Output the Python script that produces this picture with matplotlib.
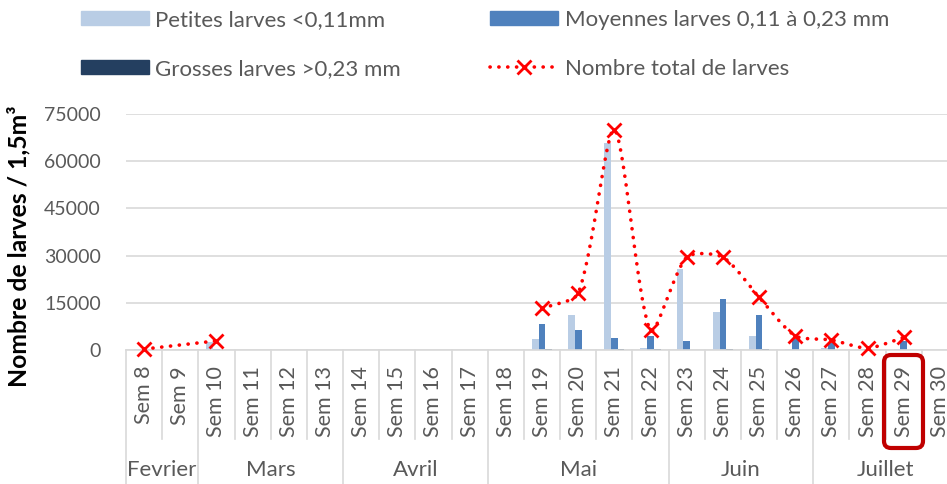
import numpy as np
import matplotlib
matplotlib.use("Agg")
import matplotlib.pyplot as plt
from matplotlib.patches import Patch, FancyBboxPatch
from matplotlib.lines import Line2D

plt.rcParams['font.family'] = ['Lato', 'DejaVu Sans']

nan = np.nan
weeks = ["Sem %d" % w for w in range(8, 31)]
months = ["Fevrier", "Mars", "Avril", "Mai", "Juin", "Juillet"]
month_sizes = [2, 4, 4, 5, 4, 4]

petites = [300, nan, 2500, nan, nan, nan, nan, nan, nan, nan, nan,
           3500, 11000, 65800, 600, 25600, 12000, 4600, 200, 600, 300, 300, nan]
moyennes = [100, nan, 300, nan, nan, nan, nan, nan, nan, nan, nan,
            8300, 6200, 3800, 4300, 3000, 16300, 11000, 3600, 2300, 200, 2800, nan]
grosses = [0, nan, 50, nan, nan, nan, nan, nan, nan, nan, nan,
           400, 150, 250, 400, 100, 300, 200, 150, 100, 50, 100, nan]
total = [300, nan, 2900, nan, nan, nan, nan, nan, nan, nan, nan,
         13200, 18000, 70000, 6200, 29500, 29500, 16800, 4500, 3200, 600, 4000, nan]

GREY = '#595959'
W, H = 947, 484
fig = plt.figure(figsize=(W / 100, H / 100), dpi=100)
ax = fig.add_axes([126 / W, (H - 350) / H, 832 / W, 236 / H])

n = len(weeks)
x = np.arange(n)
bw = 0.185
cols = ['#B9CDE5', '#4F81BD', '#243F60']
for k, (vals, c) in enumerate(zip([petites, moyennes, grosses], cols)):
    ax.bar(x + (k - 1) * bw, np.nan_to_num(vals), width=bw, color=c, zorder=2)

ax.set_xlim(-0.5, n - 0.5)
ax.set_ylim(0, 75000)

# smoothed total line (Excel-like smoothing in display space), broken at long gaps
tot = np.array(total, dtype=float)
valid = np.where(~np.isnan(tot))[0]
groups, cur = [], [valid[0]]
for i in valid[1:]:
    if i - cur[-1] <= 2:
        cur.append(i)
    else:
        groups.append(cur)
        cur = [i]
groups.append(cur)

def smooth_pix(P, tension=0.25, steps=40):
    if len(P) < 3:
        return P
    m = len(P)
    cin, cout = [None] * m, [None] * m
    for i in range(m):
        p0 = P[max(i - 1, 0)]
        p2 = P[min(i + 1, m - 1)]
        d1 = np.linalg.norm(P[i] - p0)
        d2 = np.linalg.norm(p2 - P[i])
        T = p2 - p0
        s = d1 + d2 if d1 + d2 > 0 else 1
        cout[i] = P[i] + T * (d2 / s) * tension
        cin[i] = P[i] - T * (d1 / s) * tension
    out = [P[:1]]
    t = np.linspace(0, 1, steps)[1:, None]
    for i in range(m - 1):
        p1, c1, c2, p2 = P[i], cout[i], cin[i + 1], P[i + 1]
        out.append((1 - t) ** 3 * p1 + 3 * (1 - t) ** 2 * t * c1
                   + 3 * (1 - t) * t ** 2 * c2 + t ** 3 * p2)
    return np.vstack(out)

tr = ax.transData
for g in groups:
    P = tr.transform(np.column_stack([x[g], tot[g]]))
    S = tr.inverted().transform(smooth_pix(P))
    ax.plot(S[:, 0], S[:, 1], color='#FF0000', lw=2.6, linestyle=(0, (0.05, 2.4)),
            dash_capstyle='round', zorder=3, clip_on=False)
ax.plot(x[valid], tot[valid], linestyle='none', marker='x', ms=10, mew=2,
        color='#FF0000', zorder=4, clip_on=False)

ax.set_yticks(np.arange(0, 75001, 15000))
ax.tick_params(axis='y', length=0, labelsize=14, labelcolor=GREY, pad=18)
ax.set_xticks([])
ax.grid(axis='y', color='#D9D9D9', lw=1.2, zorder=0)
ax.set_axisbelow(True)
for s in ['top', 'right', 'left']:
    ax.spines[s].set_visible(False)
ax.spines['bottom'].set_color('#D9D9D9')
ax.spines['bottom'].set_linewidth(1.2)

xt = ax.get_xaxis_transform()
wk_bottom = -(439 - 350) / 236
mo_bottom = -(484 - 350) / 236
month_bounds = set(np.cumsum([0] + month_sizes))
for b in range(n + 1):
    bottom = mo_bottom if b in month_bounds else wk_bottom
    ax.plot([b - 0.5, b - 0.5], [0, bottom], transform=xt, color='#D9D9D9',
            lw=1.2, clip_on=False)
for i, w in enumerate(weeks):
    ax.text(i, -(366 - 350) / 236, w, transform=xt, rotation=90, ha='center',
            va='top', fontsize=15.5, color=GREY)
start = 0
for m, sz in zip(months, month_sizes):
    ax.text(start + (sz - 1) / 2, -(470 - 350) / 236, m, transform=xt,
            ha='center', va='center', fontsize=16, color=GREY)
    start += sz

fig.text(19 / W, (H - 246) / H, 'Nombre de larves / 1,5m³', rotation=90,
         ha='center', va='center', fontsize=17.8, fontweight='bold', color='black')

handles = [Patch(color=cols[0]), Patch(color=cols[1]), Patch(color=cols[2]),
           Line2D([], [], color='#FF0000', lw=2.6, linestyle=(0, (0.05, 2.4)),
                  dash_capstyle='round', marker='x', ms=10, mew=2)]
labels = ['Petites larves <0,11mm', 'Moyennes larves 0,11 à 0,23 mm',
          'Grosses larves >0,23 mm', 'Nombre total de larves']
order = [0, 2, 1, 3]
leg = fig.legend([handles[i] for i in order], [labels[i] for i in order], ncol=2,
                 loc='upper left', bbox_to_anchor=(81 / W, (H - 10) / H),
                 frameon=False, fontsize=16, handlelength=3.05, handleheight=0.6,
                 handletextpad=0.3, columnspacing=4.0, labelspacing=1.3,
                 borderpad=0, borderaxespad=0)
for t in leg.get_texts():
    t.set_color(GREY)

box = FancyBboxPatch((8.84, (H - 448) / 100), 0.39, 0.93,
                     boxstyle='round,pad=0,rounding_size=0.07',
                     transform=fig.dpi_scale_trans, fill=False,
                     edgecolor='#C00000', lw=3, zorder=10)
fig.patches.append(box)

fig.savefig('out.png', dpi=100)
